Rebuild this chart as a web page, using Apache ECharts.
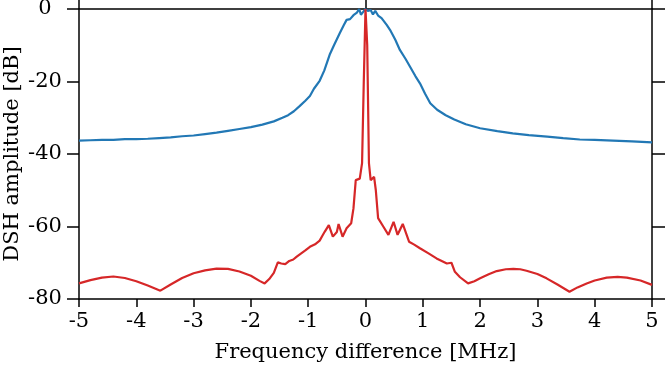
<!DOCTYPE html>
<html>
<head>
<meta charset="utf-8">
<script src="https://cdn.jsdelivr.net/npm/echarts@6/dist/echarts.min.js"></script>
<style>
  html, body { margin: 0; padding: 0; background: #fff; }
  #chart { width: 665px; height: 368px; }
</style>
</head>
<body>
<div id="chart"></div>
<script>
// DSH spectra: frequency difference [MHz] vs amplitude [dB]

var blueFreq = [-5.0, -4.8, -4.6, -4.4, -4.2, -4.0, -3.8, -3.6, -3.4, -3.2, -3.0, -2.8, -2.6, -2.4, -2.2, -2.0,
  -1.8, -1.6, -1.45, -1.35, -1.25, -1.15, -1.05, -0.97, -0.9, -0.8, -0.72, -0.62, -0.55, -0.45, -0.38, -0.33,
  -0.27, -0.21, -0.15, -0.11, -0.08, -0.04, 0, 0.04, 0.09, 0.13, 0.17, 0.22, 0.28, 0.37, 0.43, 0.52, 0.6, 0.7,
  0.78, 0.87, 0.95, 1.04, 1.13, 1.25, 1.4, 1.55, 1.75, 2.0, 2.3, 2.57, 2.85, 3.17, 3.45, 3.74, 4.0, 4.32, 4.65, 5.0];
var blueDb = [-36.3, -36.2, -36.1, -36.1, -35.9, -35.9, -35.8, -35.6, -35.4, -35.1, -34.9, -34.5, -34.1, -33.6, -33.1, -32.6,
  -31.9, -31.0, -30.0, -29.3, -28.2, -26.8, -25.3, -24.0, -22.0, -19.8, -17.0, -12.4, -10.0, -6.7, -4.5, -3.0,
  -2.8, -1.7, -1.0, 0, -1.6, -0.8, 0, -0.5, -0.3, -1.5, -0.5, -1.8, -2.5, -4.4, -5.8, -8.5, -11.3, -13.8,
  -16.0, -18.5, -20.5, -23.4, -26.0, -27.8, -29.3, -30.5, -31.8, -32.9, -33.7, -34.3, -34.8, -35.2, -35.6, -36.0, -36.1, -36.3, -36.5, -36.8];

var redFreq = [-5.0, -4.8, -4.6, -4.4, -4.2, -4.0, -3.8, -3.58, -3.4, -3.2, -3.0, -2.8, -2.6, -2.4, -2.2, -2.0,
  -1.85, -1.76, -1.68, -1.6, -1.53, -1.47, -1.4, -1.33, -1.26, -1.2, -1.14, -1.05, -0.97, -0.88, -0.8, -0.75,
  -0.71, -0.64, -0.57, -0.5, -0.47, -0.4, -0.33, -0.25, -0.21, -0.17, -0.1, -0.06, -0.03, 0, 0.03, 0.06, 0.09,
  0.15, 0.18, 0.22, 0.25, 0.31, 0.4, 0.49, 0.56, 0.65, 0.76, 0.85, 0.95, 1.1, 1.24, 1.42, 1.5, 1.56, 1.65, 1.79,
  1.9, 2.0, 2.15, 2.29, 2.45, 2.58, 2.7, 2.81, 3.0, 3.16, 3.35, 3.56, 3.7, 3.86, 4.0, 4.21, 4.4, 4.56, 4.8, 5.0];
var redDb = [-75.7, -74.8, -74.1, -73.8, -74.2, -75.1, -76.3, -77.7, -76.0, -74.2, -72.9, -72.1, -71.6, -71.7, -72.4, -73.6,
  -75.0, -75.7, -74.5, -72.8, -69.9, -70.2, -70.4, -69.5, -69.1, -68.3, -67.6, -66.6, -65.6, -64.9, -63.9, -62.5,
  -61.4, -59.6, -62.8, -61.5, -59.3, -62.8, -60.5, -59.1, -55.0, -47.2, -46.8, -42.5, -20.0, 0, -10.0, -42.5, -47.2,
  -46.3, -50.0, -57.7, -58.2, -60.0, -62.3, -58.7, -62.3, -59.3, -64.2, -65.0, -66.0, -67.4, -68.8, -70.2, -70.0, -72.5, -74.0, -75.7,
  -75.1, -74.3, -73.2, -72.3, -71.8, -71.7, -71.8, -72.2, -73.1, -74.3, -76.0, -78.0, -76.8, -75.7, -74.9, -74.1, -73.9, -74.1, -74.9, -76.1];

function pairs(xs, ys) {
  var out = [];
  for (var i = 0; i < xs.length; i++) out.push([xs[i], ys[i]]);
  return out;
}

var chart = echarts.init(document.getElementById("chart"));

var font = "DejaVu Serif";
var axisLine = { show: true, onZero: false, lineStyle: { color: "#000", width: 1.5 } };

var option = {
  animation: false,
  textStyle: { fontFamily: font },
  grid: { left: 79, right: 13, top: 9, bottom: 69, containLabel: false, outerBoundsMode: "none" },
  xAxis: [
    {
      type: "value", position: "bottom", min: -5, max: 5, interval: 1,
      axisLine: axisLine,
      axisTick: { show: true, length: 8, lineStyle: { color: "#000", width: 1.5 } },
      axisLabel: { color: "#000", fontSize: 21, fontFamily: font, margin: 12 },
      splitLine: { show: false },
      name: "Frequency difference [MHz]", nameLocation: "middle", nameGap: 54, nameMoveOverlap: false,
      nameTextStyle: { color: "#000", fontSize: 21, fontFamily: font, verticalAlign: "middle" }
    },
    {
      type: "value", position: "top", min: -5, max: 5, interval: 5,
      axisLine: axisLine,
      axisTick: { show: true, length: 9, lineStyle: { color: "#000", width: 1.5 } },
      axisLabel: { show: false },
      splitLine: { show: false }
    }
  ],
  yAxis: [
    {
      type: "value", position: "left", min: -80, max: 0, interval: 20,
      axisLine: axisLine,
      axisTick: { show: true, length: 12, lineStyle: { color: "#000", width: 1.5 } },
      axisLabel: { color: "#000", fontSize: 21, fontFamily: font, margin: 34, align: "center" },
      splitLine: { show: false },
      name: "DSH amplitude [dB]", nameLocation: "middle", nameGap: 66, nameMoveOverlap: false,
      nameTextStyle: { color: "#000", fontSize: 21, fontFamily: font, verticalAlign: "middle" },
      nameRotate: 90
    },
    {
      type: "value", position: "right", min: -80, max: 0, interval: 20,
      axisLine: axisLine,
      axisTick: { show: true, length: 13, lineStyle: { color: "#000", width: 1.5 } },
      axisLabel: { show: false },
      splitLine: { show: false }
    }
  ],
  series: [
    {
      name: "blue", type: "line", xAxisIndex: 0, yAxisIndex: 0,
      data: pairs(blueFreq, blueDb), showSymbol: false, symbol: "none",
      lineStyle: { color: "#2278b5", width: 2.2 }, z: 2
    },
    {
      name: "red", type: "line", xAxisIndex: 0, yAxisIndex: 0,
      data: pairs(redFreq, redDb), showSymbol: false, symbol: "none",
      lineStyle: { color: "#d62728", width: 2.2 }, z: 3
    }
  ]
};

chart.setOption(option);
</script>
</body>
</html>
